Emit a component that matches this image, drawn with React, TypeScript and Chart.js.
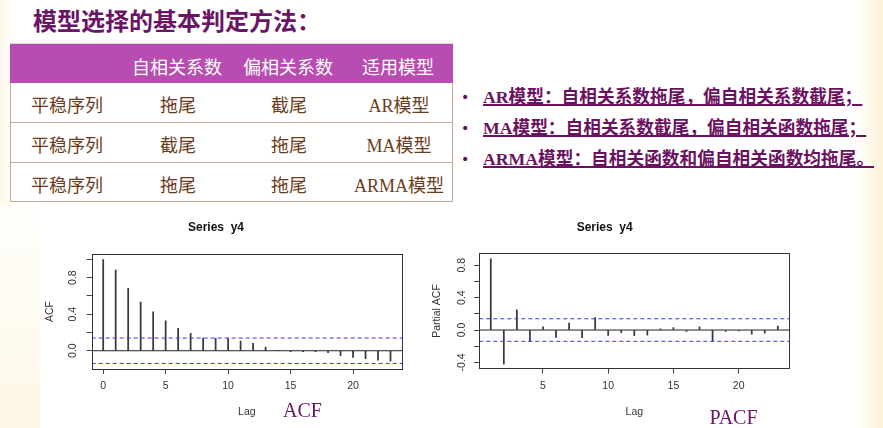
import React, { useEffect, useRef } from "react";
import { Chart, registerables } from "chart.js";

Chart.register(...registerables);

// ---------- data ----------
const titleText = "模型选择的基本判定方法：";
const tableHeaders = ["", "自相关系数", "偏相关系数", "适用模型"];
const tableRowLabels = ["平稳序列", "平稳序列", "平稳序列"];
const tableAcfCol = ["拖尾", "截尾", "拖尾"];
const tablePacfCol = ["截尾", "拖尾", "拖尾"];
const tableModelCol = ["AR模型", "MA模型", "ARMA模型"];
const bulletLines = [
  "AR模型：自相关系数拖尾，偏自相关系数截尾；",
  "MA模型：自相关系数截尾，偏自相关函数拖尾；",
  "ARMA模型：自相关函数和偏自相关函数均拖尾。",
];

const acfLags = [0, 1, 2, 3, 4, 5, 6, 7, 8, 9, 10, 11, 12, 13, 14, 15, 16, 17, 18, 19, 20, 21, 22, 23];
const acfValues = [1.0, 0.884, 0.683, 0.533, 0.427, 0.329, 0.245, 0.19, 0.139, 0.135, 0.135, 0.106, 0.08, 0.04, 0.004, -0.01, -0.01, -0.01, -0.022, -0.055, -0.073, -0.088, -0.102, -0.113];
const pacfLags = [1, 2, 3, 4, 5, 6, 7, 8, 9, 10, 11, 12, 13, 14, 15, 16, 17, 18, 19, 20, 21, 22, 23];
const pacfValues = [0.879, -0.42, 0.248, -0.144, 0.04, -0.09, 0.087, -0.095, 0.153, -0.066, -0.033, -0.07, -0.062, 0.016, 0.029, -0.016, 0.041, -0.136, -0.016, -0.012, -0.05, -0.04, 0.05];
const confLimit = 0.139;

const xTickValues = [0, 5, 10, 15, 20];
const pacfXTickValues = [5, 10, 15, 20];
const acfYTicks = [0, 0.2, 0.4, 0.6, 0.8, 1.0];
const acfYLabels = [0, 0.4, 0.8];
const pacfYTicks = [-0.4, -0.2, 0, 0.2, 0.4, 0.6, 0.8];
const pacfYLabels = [-0.4, 0, 0.4, 0.8];

const chartTitle = "Series  y4";
const xAxisTitle = "Lag";

// ---------- chart ----------
type StemCfg = {
  left: number;
  top: number;
  width: number;
  height: number;
  lags: number[];
  values: number[];
  xMin: number;
  xMax: number;
  yMin: number;
  yMax: number;
  xTicks: number[];
  yTicks: number[];
  yLabels: number[];
  yTitle: string;
  yWidth: number;
  xHeight: number;
  padRight: number;
  titlePadBottom: number;
  yTitlePad: number;
  yLabelOffset: number;
};

const axisFont = { family: "'Liberation Sans', Arial, sans-serif", size: 10.5 };
const axisColor = "#333";

function StemChart({ cfg }: { cfg: StemCfg }) {
  const ref = useRef<HTMLCanvasElement>(null);
  useEffect(() => {
    if (!ref.current) return;
    const boxPlugin = {
      id: "rbox",
      afterDraw(chart: any) {
        const { ctx, chartArea } = chart;
        const { left, top, right, bottom } = chartArea;
        ctx.save();
        ctx.strokeStyle = "#333";
        ctx.lineWidth = 1;
        ctx.strokeRect(Math.round(left) + 0.5, Math.round(top) + 0.5, Math.round(right - left), Math.round(bottom - top));
        const ys = chart.scales.y;
        ctx.font = `${axisFont.size}px ${axisFont.family}`;
        ctx.fillStyle = axisColor;
        ctx.textAlign = "center";
        ctx.textBaseline = "middle";
        cfg.yLabels.forEach((v) => {
          const py = ys.getPixelForValue(v);
          ctx.save();
          ctx.translate(left - cfg.yLabelOffset, py);
          ctx.rotate(-Math.PI / 2);
          ctx.fillText(v.toFixed(1), 0, 0);
          ctx.restore();
        });
        ctx.restore();
      },
    };
    const chart = new Chart(ref.current, {
      type: "bar",
      data: {
        datasets: [
          {
            type: "line",
            data: [{ x: cfg.xMin, y: confLimit }, { x: cfg.xMax, y: confLimit }],
            borderColor: "#3434ff",
            borderWidth: 1,
            borderDash: [4, 3],
            pointRadius: 0,
            fill: false,
          },
          {
            type: "line",
            data: [{ x: cfg.xMin, y: -confLimit }, { x: cfg.xMax, y: -confLimit }],
            borderColor: "#3434ff",
            borderWidth: 1,
            borderDash: [4, 3],
            pointRadius: 0,
            fill: false,
          },
          {
            type: "line",
            data: [{ x: cfg.xMin, y: 0 }, { x: cfg.xMax, y: 0 }],
            borderColor: "#222",
            borderWidth: 1,
            pointRadius: 0,
            fill: false,
          },
          {
            type: "bar",
            data: cfg.lags.map((x, i) => ({ x, y: cfg.values[i] })),
            backgroundColor: "#3a3a3a",
            borderWidth: 0,
            barThickness: 1.1,
          } as any,
        ],
      },
      options: {
        responsive: false,
        animation: false,
        layout: { padding: { left: 0, right: cfg.padRight, top: 0, bottom: 0 } },
        plugins: {
          legend: { display: false },
          tooltip: { enabled: false },
          title: {
            display: true,
            text: chartTitle,
            color: "#111",
            font: { family: "'Liberation Sans', Arial, sans-serif", size: 12, weight: "bold" },
            padding: { top: 8, bottom: cfg.titlePadBottom - 1.2 },
          },
        },
        scales: {
          x: {
            type: "linear",
            min: cfg.xMin,
            max: cfg.xMax,
            offset: false,
            grid: { display: true, drawOnChartArea: false, drawTicks: true, tickLength: 5, color: "#444", offset: false },
            border: { display: false },
            ticks: { font: axisFont, color: axisColor, padding: 6, maxRotation: 0, callback: (v: any) => String(v) },
            afterBuildTicks: (s: any) => {
              s.ticks = cfg.xTicks.map((v) => ({ value: v }));
            },
            afterFit: (s: any) => {
              s.height = cfg.xHeight;
            },
            title: { display: true, text: xAxisTitle, color: axisColor, font: axisFont, padding: { top: 0, bottom: 7 } },
          },
          y: {
            type: "linear",
            min: cfg.yMin,
            max: cfg.yMax,
            grid: { display: true, drawOnChartArea: false, drawTicks: true, tickLength: 5, color: "#444" },
            border: { display: false },
            ticks: { display: false },
            afterBuildTicks: (s: any) => {
              s.ticks = cfg.yTicks.map((v) => ({ value: v }));
            },
            afterFit: (s: any) => {
              s.width = cfg.yWidth;
            },
            title: { display: true, text: cfg.yTitle, color: axisColor, font: axisFont, padding: { top: cfg.yTitlePad, bottom: 0 } },
          },
        },
      } as any,
      plugins: [boxPlugin],
    });
    return () => chart.destroy();
  }, []);
  return (
    <canvas
      ref={ref}
      width={cfg.width}
      height={cfg.height}
      style={{ position: "absolute", left: cfg.left, top: cfg.top, width: cfg.width, height: cfg.height }}
    />
  );
}

const acfCfg: StemCfg = {
  left: 30,
  top: 212,
  width: 380,
  height: 213,
  lags: acfLags,
  values: acfValues,
  xMin: -0.92,
  xMax: 23.92,
  yMin: -0.2,
  yMax: 1.06,
  xTicks: xTickValues,
  yTicks: acfYTicks,
  yLabels: acfYLabels,
  yTitle: "ACF",
  yWidth: 61.7,
  xHeight: 56,
  padRight: 8,
  titlePadBottom: 20.8,
  yTitlePad: 13.7,
  yLabelOffset: 18.7,
};

const pacfCfg: StemCfg = {
  left: 420,
  top: 212,
  width: 380,
  height: 213,
  lags: pacfLags,
  values: pacfValues,
  xMin: 0.12,
  xMax: 23.88,
  yMin: -0.477,
  yMax: 0.947,
  xTicks: pacfXTickValues,
  yTicks: pacfYTicks,
  yLabels: pacfYLabels,
  yTitle: "Partial ACF",
  yWidth: 59.3,
  xHeight: 56.3,
  padRight: 10.7,
  titlePadBottom: 20.1,
  yTitlePad: 10.7,
  yLabelOffset: 17.3,
};

// ---------- page ----------
const purple = "#6a1466";
const brown = "#6b3d20";
const borderCol = "#c4a89c";
const colCenters = [66, 177, 288, 398];
const serifCjk = "'Liberation Serif', 'Noto Sans CJK SC', serif";
const sansCjk = "'Noto Sans CJK SC', sans-serif";

function Cell({ cx, text, color, font }: { cx: number; text: string; color: string; font: string }) {
  return (
    <div
      style={{
        position: "absolute",
        left: cx - 10 - 70,
        width: 140,
        top: 3,
        height: 40,
        lineHeight: "40px",
        textAlign: "center",
        color,
        fontFamily: font,
        fontSize: 18,
        whiteSpace: "nowrap",
      }}
    >
      {text}
    </div>
  );
}

export default function App() {
  const rowTops = [83, 123, 163];
  const rowHeights = [40, 40, 39];
  const rows = tableRowLabels.map((l, i) => [l, tableAcfCol[i], tablePacfCol[i], tableModelCol[i]]);
  const bulletCenters = [96.7, 127.5, 159];
  return (
    <div
      style={{
        position: "fixed",
        left: 0,
        top: 0,
        width: 883,
        height: 428,
        overflow: "hidden",
        background:
          "linear-gradient(to right, #fdf8ea 0px, #fefcf5 8px, #ffffff 14px, #ffffff 854px, #fefaef 868px, #fdf2d9 883px)",
      }}
    >
      <div
        style={{
          position: "absolute",
          left: 0,
          top: 205,
          width: 40,
          height: 223,
          background: "linear-gradient(to bottom, #fffefb, #fefaef 60%, #fdf6e4)",
        }}
      />
      {/* title */}
      <div
        style={{
          position: "absolute",
          left: 33,
          top: 10,
          height: 24,
          lineHeight: "24px",
          fontSize: 24,
          fontWeight: "bold",
          fontFamily: serifCjk,
          color: purple,
          whiteSpace: "nowrap",
        }}
      >
        {titleText}
      </div>

      {/* table */}
      <div
        style={{
          position: "absolute",
          left: 10,
          top: 43,
          width: 443,
          height: 40,
          background: "#b84cb0",
          borderTop: "1px solid #e2d2da",
          boxSizing: "border-box",
        }}
      >
        {tableHeaders.map((h, i) => (
          <div
            key={i}
            style={{
              position: "absolute",
              left: colCenters[i] - 10 - 70,
              width: 140,
              top: 2,
              height: 40,
              lineHeight: "40px",
              textAlign: "center",
              color: "#ffffff",
              fontFamily: sansCjk,
              fontSize: 18,
              whiteSpace: "nowrap",
            }}
          >
            {h}
          </div>
        ))}
      </div>
      {rows.map((r, ri) => (
        <div
          key={ri}
          style={{
            position: "absolute",
            left: 10,
            top: rowTops[ri],
            width: 443,
            height: rowHeights[ri],
            boxSizing: "border-box",
            borderLeft: `1px solid ${borderCol}`,
            borderRight: `1px solid ${borderCol}`,
            borderBottom: `1px solid ${borderCol}`,
            background: "#ffffff",
          }}
        >
          {r.map((t, ci) => (
            <Cell key={ci} cx={colCenters[ci]} text={t} color={brown} font={serifCjk} />
          ))}
        </div>
      ))}

      {/* bullets */}
      {bulletLines.map((b, i) => (
        <React.Fragment key={i}>
          <div
            style={{
              position: "absolute",
              left: 461,
              top: bulletCenters[i] - 10,
              height: 20,
              lineHeight: "20px",
              fontSize: 14,
              color: "#5a0f50",
              fontFamily: "'DejaVu Sans', sans-serif",
            }}
          >
            •
          </div>
          <div
            style={{
              position: "absolute",
              left: 483,
              top: bulletCenters[i] - 10,
              height: 20,
              lineHeight: "20px",
              fontSize: 17.7,
              fontWeight: "bold",
              fontFamily: serifCjk,
              color: "#6b1160",
              textDecoration: "underline",
              textDecorationThickness: "1.5px",
              whiteSpace: "nowrap",
            }}
          >
            {b}
          </div>
        </React.Fragment>
      ))}

      <StemChart cfg={acfCfg} />
      <StemChart cfg={pacfCfg} />

      <div
        style={{
          position: "absolute",
          left: 302.5 - 40,
          width: 80,
          top: 410 - 12,
          height: 24,
          lineHeight: "24px",
          textAlign: "center",
          fontSize: 20,
          fontFamily: "'Liberation Serif', serif",
          color: purple,
        }}
      >
        ACF
      </div>
      <div
        style={{
          position: "absolute",
          left: 733.5 - 40,
          width: 80,
          top: 416.5 - 12,
          height: 24,
          lineHeight: "24px",
          textAlign: "center",
          fontSize: 20,
          fontFamily: "'Liberation Serif', serif",
          color: purple,
        }}
      >
        PACF
      </div>
    </div>
  );
}
